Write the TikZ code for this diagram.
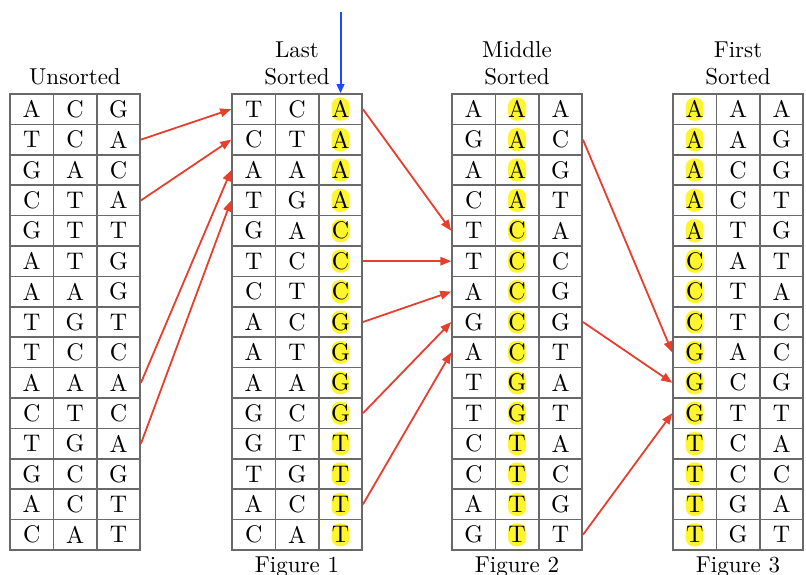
\documentclass[tikz,border=0pt]{standalone}
\usepackage{graphicx}
\usetikzlibrary{arrows.meta}

\definecolor{gridgray}{RGB}{105,105,105}
\definecolor{hlyellow}{RGB}{255,245,45}
\definecolor{arrowred}{RGB}{232,62,45}
\definecolor{arrowblue}{RGB}{25,75,255}

% Text is set at 10pt design size and enlarged
\newcommand\bigletters[1]{\scalebox{2.3}{#1}}
\newcommand\cellletter[1]{\scalebox{2.4}{#1}}

% #1 name prefix, #2 left edge, #3 highlighted column (0 = none), #4 rows a/b/c
\newcommand\dnatable[4]{%
  \foreach \ca/\cb/\cc [count=\r] in {#4} {
    \pgfmathsetmacro\yy{94+30.4*(\r-0.5)}
    \ifnum#3>0
      \node[hlblob] (#1-h-\r) at ({#2+43.4*(#3-0.5)},\yy) {};
    \fi
    \node[cell] (#1-\r-a) at ({#2+21.7},\yy) {\cellletter{\ca}};
    \node[cell] (#1-\r-b) at ({#2+65.1},\yy) {\cellletter{\cb}};
    \node[cell] (#1-\r-c) at ({#2+108.5},\yy) {\cellletter{\cc}};
  }%
}

\begin{document}
\begin{tikzpicture}[x=1pt,y=-1pt,
  cell/.style={draw=gridgray, line width=1.5pt, minimum width=43.4pt,
    minimum height=30.4pt, inner sep=0pt, font=\fontsize{10}{12}\selectfont},
  hlblob/.style={fill=hlyellow, rounded corners=8pt, minimum width=18pt,
    minimum height=23pt, inner sep=0pt},
  hdr/.style={anchor=base, inner sep=0pt, font=\fontsize{10}{12}\selectfont},
  redarrow/.style={draw=arrowred, line width=1.8pt,
    -{Triangle[length=11pt,width=8.5pt]}},
  bluearrow/.style={draw=arrowblue, line width=2pt,
    -{Triangle[length=9pt,width=7.5pt]}}]
\useasboundingbox (0,0) rectangle (806,575);

% the four tables
\dnatable{U}{10}{0}{A/C/G, T/C/A, G/A/C, C/T/A, G/T/T, A/T/G, A/A/G, T/G/T,
  T/C/C, A/A/A, C/T/C, T/G/A, G/C/G, A/C/T, C/A/T}
\dnatable{L}{232}{3}{T/C/A, C/T/A, A/A/A, T/G/A, G/A/C, T/C/C, C/T/C, A/C/G,
  A/T/G, A/A/G, G/C/G, G/T/T, T/G/T, A/C/T, C/A/T}
\dnatable{M}{452}{2}{A/A/A, G/A/C, A/A/G, C/A/T, T/C/A, T/C/C, A/C/G, G/C/G,
  A/C/T, T/G/A, T/G/T, C/T/A, C/T/C, A/T/G, G/T/T}
\dnatable{F}{673}{1}{A/A/A, A/A/G, A/C/G, A/C/T, A/T/G, C/A/T, C/T/A, C/T/C,
  G/A/C, G/C/G, G/T/T, T/C/A, T/C/C, T/G/A, T/G/T}

% headings
\node[hdr] (headU)  at (75,85)    {\bigletters{Unsorted}};
\node[hdr] (headL1) at (297,57.5) {\bigletters{Last}};
\node[hdr] (headL2) at (297,85)   {\bigletters{Sorted}};
\node[hdr] (headM1) at (517,57.5) {\bigletters{Middle}};
\node[hdr] (headM2) at (517,85)   {\bigletters{Sorted}};
\node[hdr] (headF1) at (738,57.5) {\bigletters{First}};
\node[hdr] (headF2) at (738,85)   {\bigletters{Sorted}};

% captions
\node[hdr] (capL) at (297,572) {\bigletters{Figure 1}};
\node[hdr] (capM) at (517,572) {\bigletters{Figure 2}};
\node[hdr] (capF) at (738,572) {\bigletters{Figure 3}};

% key column marker
\coordinate (keytop) at (340.5,12);
\draw[bluearrow] (keytop) -- (L-1-c.north);

% record moves between passes
\draw[redarrow] (U-2-c.east)  -- (L-1-a.west);
\draw[redarrow] (U-4-c.east)  -- (L-2-a.west);
\draw[redarrow] (U-10-c.east) -- (L-3-a.west);
\draw[redarrow] (U-12-c.east) -- (L-4-a.west);

\draw[redarrow] (L-1-c.east)  -- (M-5-a.west);
\draw[redarrow] (L-6-c.east)  -- (M-6-a.west);
\draw[redarrow] (L-8-c.east)  -- (M-7-a.west);
\draw[redarrow] (L-11-c.east) -- (M-8-a.west);
\draw[redarrow] (L-14-c.east) -- (M-9-a.west);

\draw[redarrow] (M-2-c.east)  -- (F-9-a.west);
\draw[redarrow] (M-8-c.east)  -- (F-10-a.west);
\draw[redarrow] (M-15-c.east) -- (F-11-a.west);
\end{tikzpicture}
\end{document}
